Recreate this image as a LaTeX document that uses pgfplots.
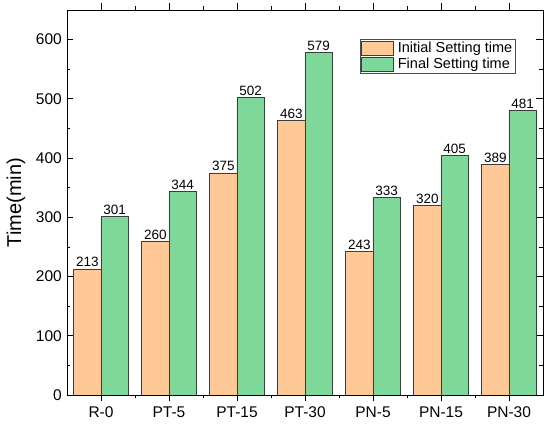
\documentclass[border=0pt]{standalone}
\usepackage{pgfplots}
\pgfplotsset{compat=1.18}
\usepackage{fontspec}
\setmainfont{Liberation Sans}
\definecolor{barorange}{RGB}{255,200,150}
\definecolor{bargreen}{RGB}{126,216,154}
\definecolor{edge}{RGB}{60,60,60}
\begin{document}
\begin{tikzpicture}[x=1pt,y=1pt]
\useasboundingbox (0,0) rectangle (550,427);
\begin{axis}[
  at={(67pt,32pt)}, anchor=south west,
  scale only axis, width=476pt, height=385pt,
  xmin=-0.5, xmax=6.5, ymin=0, ymax=650,
  xtick={0,1,2,3,4,5,6},
  xticklabels={R-0,PT-5,PT-15,PT-30,PN-5,PN-15,PN-30},
  minor xtick={0.5,1.5,2.5,3.5,4.5,5.5},
  ytick={0,100,200,300,400,500,600},
  minor ytick={50,150,250,350,450,550,650},
  tick align=inside,
  major tick length=6.5pt, minor tick length=3.5pt,
  tick style={black, line width=0.8pt},
  axis line style={black, line width=0.8pt},
  /pgf/number format/assume math mode=true,
  ticklabel style={font=\fontsize{15.5}{18}\selectfont},
  yticklabel style={inner sep=2pt, xshift=-3pt},
  xticklabel style={yshift=-2pt},
  ylabel={Time(min)},
  ylabel style={font=\fontsize{20}{24}\selectfont, at={(axis description cs:-0.107,0.5)}, anchor=center},
  ybar, bar width=0.4,
  nodes near coords,
  nodes near coords style={font=\fontsize{13.5}{15}\selectfont, black, inner sep=1.5pt},
  legend cell align=left,
  legend style={at={(axis description cs:0.6155,0.925)}, anchor=north west,
     draw=black!70, line width=0.6pt, font=\fontsize{14.5}{16}\selectfont,
     inner sep=1pt, row sep=0pt, column sep=2pt},
  legend image code/.code={\draw[#1, line width=0.6pt] (0pt,-7pt) rectangle (32pt,7pt);},
]
\addplot[fill=barorange, draw=edge, line width=0.6pt, bar shift=-0.2] coordinates {
 (0,213) (1,260) (2,375) (3,463) (4,243) (5,320) (6,389)};
\addplot[fill=bargreen, draw=edge, line width=0.6pt, bar shift=0.2] coordinates {
 (0,301) (1,344) (2,502) (3,579) (4,333) (5,405) (6,481)};
\legend{Initial Setting time, Final Setting time}
\end{axis}
\end{tikzpicture}
\end{document}
